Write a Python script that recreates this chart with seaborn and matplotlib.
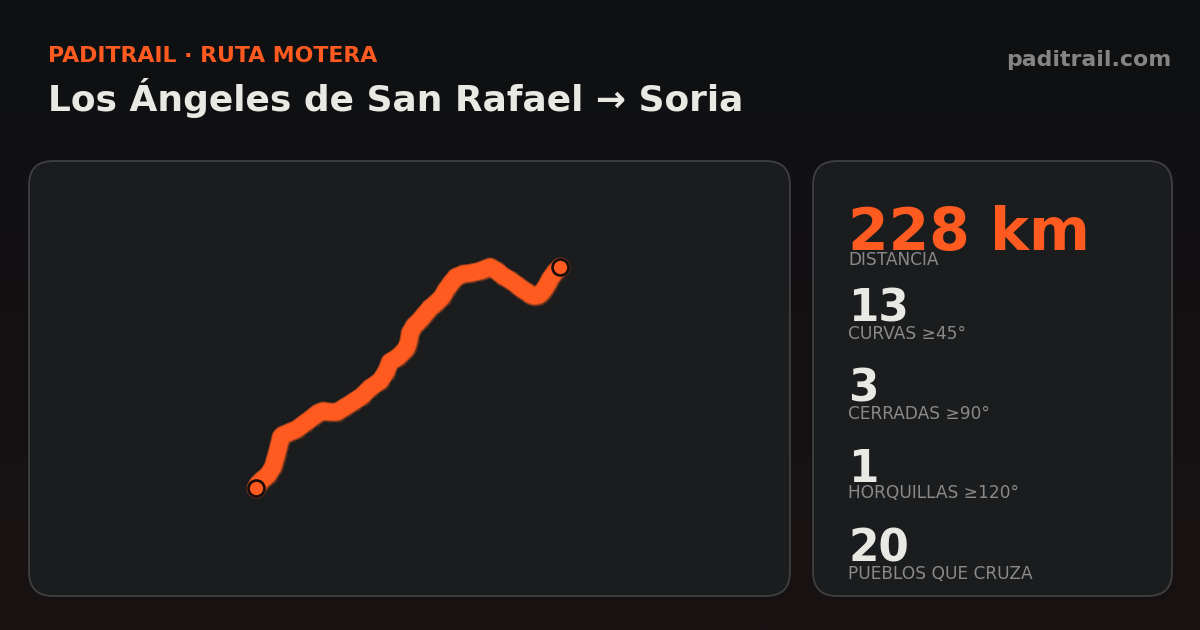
import numpy as np
import pandas as pd
import matplotlib
matplotlib.use("Agg")
import matplotlib.pyplot as plt
from matplotlib.patches import FancyBboxPatch
import seaborn as sns

route_x = [256,258,262,268,273,275,277,279,281,283,290,297,305,313,318,323,330,337,345,353,362,370,380,386,390,398,404,407,409,410,414,420,425,430,436,442,446,451,456,463,471,480,485,490,497,503,510,517,522,527,531,535,539,543,547,550,555,560]
route_y = [488,484,480,475,467,460,453,445,437,435,432,429,423,417,413,411,412,412,407,402,396,388,381,372,362,357,351,347,340,333,326,320,314,308,303,297,290,283,277,274,273,271,269,267,271,276,280,285,289,292,295,296,295,291,285,279,272,267]
stat_values = ["228 km", "13", "3", "1", "20"]
stat_labels = ["DISTANCIA", "CURVAS ≥45°", "CERRADAS ≥90°", "HORQUILLAS ≥120°", "PUEBLOS QUE CRUZA"]
BG_TOP, BG_BOT = "#0e1012", "#191213"
CARD = "#1a1c1e"; EDGE = "#3e4042"; ORANGE = "#ff5a1f"; INK = "#e9e9e4"; MUTED = "#8a8a8a"

sns.set_theme(style="dark", rc={"font.family": "DejaVu Sans"})
fig = plt.figure(figsize=(12, 6.3), dpi=100)
ax = fig.add_axes([0, 0, 1, 1])
ax.set_xlim(0, 1200); ax.set_ylim(630, 0); ax.axis("off")

c0 = np.array(matplotlib.colors.to_rgb(BG_TOP)); c1 = np.array(matplotlib.colors.to_rgb(BG_BOT))
t = np.linspace(0, 1, 256)[:, None, None]
ax.imshow(c0 + (c1 - c0) * t, extent=(0, 1200, 630, 0), aspect="auto", zorder=0)

for (x, y, w, h) in [(29, 161, 761, 435), (813, 161, 359, 435)]:
    ax.add_patch(FancyBboxPatch((x + 24, y + 24), w - 48, h - 48, boxstyle="round,pad=24,rounding_size=24",
                                fc=CARD, ec=EDGE, lw=1.3, zorder=1))

df = pd.DataFrame({"x": route_x, "y": route_y})
sns.scatterplot(data=df, x="x", y="y", ax=ax, s=215, color="#d9521f", alpha=0.32, linewidth=0, zorder=2, legend=False)
sns.lineplot(data=df, x="x", y="y", sort=False, estimator=None, ax=ax, color="#c9501f", lw=13.2,
             solid_capstyle="round", solid_joinstyle="round", zorder=3, legend=False, alpha=0.8)
sns.lineplot(data=df, x="x", y="y", sort=False, estimator=None, ax=ax, color=ORANGE, lw=11.8,
             solid_capstyle="round", solid_joinstyle="round", zorder=4, legend=False)
ax.set_xlim(0, 1200); ax.set_ylim(630, 0); ax.set_xlabel(""); ax.set_ylabel("")

ax.scatter([route_x[0], route_x[-1]], [route_y[0], route_y[-1]], s=132, c=ORANGE,
           edgecolors="#170d0a", linewidths=1.9, zorder=5)

ax.text(48, 62, "PADITRAIL · RUTA MOTERA", color=ORANGE, fontsize=15.84, fontweight="bold", va="baseline")
ax.text(48, 111.5, "Los Ángeles de San Rafael → Soria", color=INK, fontsize=25.93, fontweight="bold", va="baseline")
ax.text(1171, 66, "paditrail.com", color="#858585", fontsize=15.8, fontweight="bold", va="baseline", ha="right")

val_y = [250, 322, 402, 482, 561]
lab_y = [265, 339, 419, 498, 579]
sizes = [42, 31.5, 31.5, 31.5, 31.5]
for i, (v, l) in enumerate(zip(stat_values, stat_labels)):
    ax.text(848, val_y[i], v, color=ORANGE if i == 0 else INK, fontsize=sizes[i], fontweight="bold", va="baseline")
    ax.text(848, lab_y[i], l, color=MUTED, fontsize=12.25, va="baseline")

fig.savefig("out.png", dpi=100)
